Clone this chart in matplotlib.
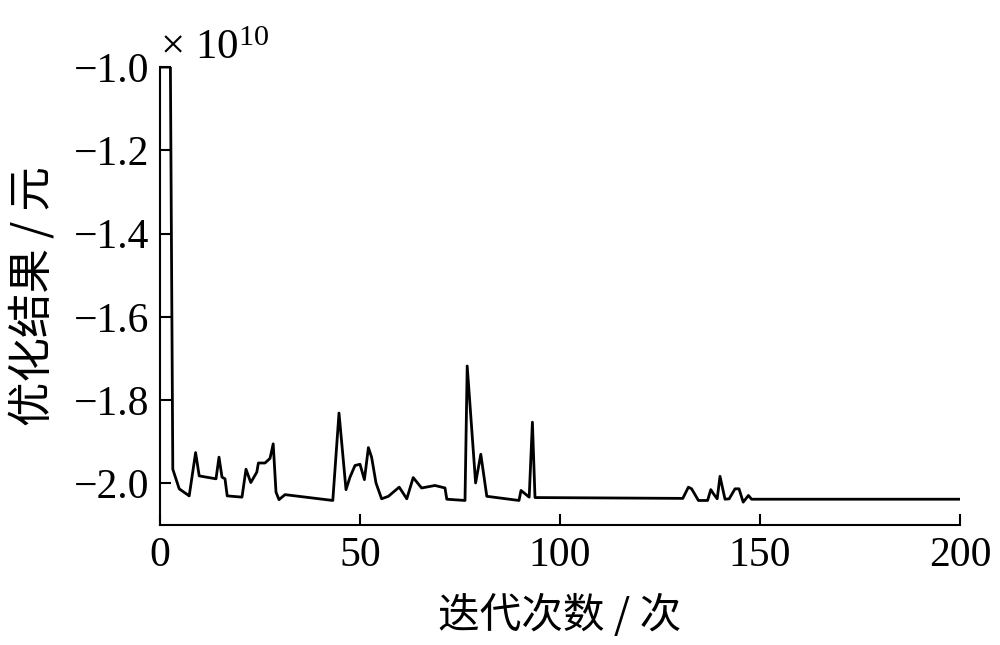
import matplotlib
matplotlib.use("Agg")
import matplotlib.pyplot as plt
from matplotlib.ticker import FuncFormatter, MultipleLocator
import numpy as np

plt.rcParams['font.family'] = ['Liberation Serif', 'Noto Sans CJK SC']
plt.rcParams['mathtext.fontset'] = 'custom'
plt.rcParams['mathtext.rm'] = 'Liberation Serif'
plt.rcParams['mathtext.it'] = 'Liberation Serif:italic'
plt.rcParams['axes.unicode_minus'] = True

# iteration number and optimization result (units of 1e10 yuan)
iterations = [0, 2.6, 3.2, 4.8, 7.3, 8.9, 9.8, 14.0, 14.75, 15.5, 16.25, 16.8, 20.5,
              21.5, 22.7, 24.2, 24.6, 26.25, 27.5, 28.3, 29.0, 29.75, 31.25, 43.2,
              44.75, 46.5, 47.5, 48.75, 50.0, 51.1, 52.1, 52.9, 54.0, 55.4, 57.1,
              59.8, 61.7, 63.3, 65.4, 68.75, 71.25, 71.7, 76.25, 76.8, 78.9, 80.2,
              81.7, 89.75, 90.25, 92.3, 93.1, 93.75, 130.7, 132.1, 132.9, 134.6,
              136.9, 137.7, 138.3, 139.3, 140.0, 141.25, 142.3, 143.75, 144.75,
              145.8, 147.1, 147.9, 200]
result_e10 = [-1.0, -1.0, -1.966, -2.013, -2.03, -1.926, -1.982, -1.989, -1.937, -1.985,
              -1.989, -2.03, -2.033, -1.966, -1.998, -1.973, -1.951, -1.951, -1.94,
              -1.905, -2.021, -2.039, -2.027, -2.041, -1.831, -2.015, -1.985, -1.957,
              -1.954, -1.991, -1.914, -1.937, -1.999, -2.037, -2.031, -2.009, -2.037,
              -1.986, -2.011, -2.005, -2.011, -2.038, -2.041, -1.718, -1.999, -1.93,
              -2.031, -2.041, -2.017, -2.033, -1.853, -2.034, -2.036, -2.009, -2.013,
              -2.041, -2.041, -2.015, -2.024, -2.037, -1.983, -2.038, -2.037, -2.013,
              -2.013, -2.045, -2.029, -2.038, -2.038]
scale_exp = 10
result = np.array(result_e10) * 10.0 ** scale_exp

x_ticks = [0, 50, 100, 150, 200]

fig = plt.figure(figsize=(10, 6.45), dpi=100)
ax = fig.add_axes([0.16, 0.186, 0.80, 0.710])
ax.plot(iterations, result, color='black', linewidth=2.0)

ax.set_xlim(0, 200)
ax.set_ylim(-2.1e10, -1.0e10)
ax.set_xticks(x_ticks)
ax.yaxis.set_major_locator(MultipleLocator(0.2e10))
ax.yaxis.set_major_formatter(
    FuncFormatter(lambda v, p: f"{v / 10.0 ** scale_exp:.1f}".replace('-', '\u2212')))

ax.annotate('\u00d7 10$^{%d}$' % scale_exp, xy=(0, 1), xycoords='axes fraction',
            xytext=(0, 6), textcoords='offset points', ha='left', va='baseline',
            fontsize=31)

for s in ['top', 'right']:
    ax.spines[s].set_visible(False)
for s in ['left', 'bottom']:
    ax.spines[s].set_linewidth(1.5)

ax.tick_params(direction='in', length=8, width=1.5, labelsize=30, pad=8)

cjk = ['Noto Sans CJK SC', 'DejaVu Sans']
ax.set_xlabel('迭代次数 / 次', fontsize=30, labelpad=14, family=cjk)
ax.set_ylabel('优化结果 / 元', fontsize=32, labelpad=13, family=cjk)

fig.savefig('out.png', dpi=100)
